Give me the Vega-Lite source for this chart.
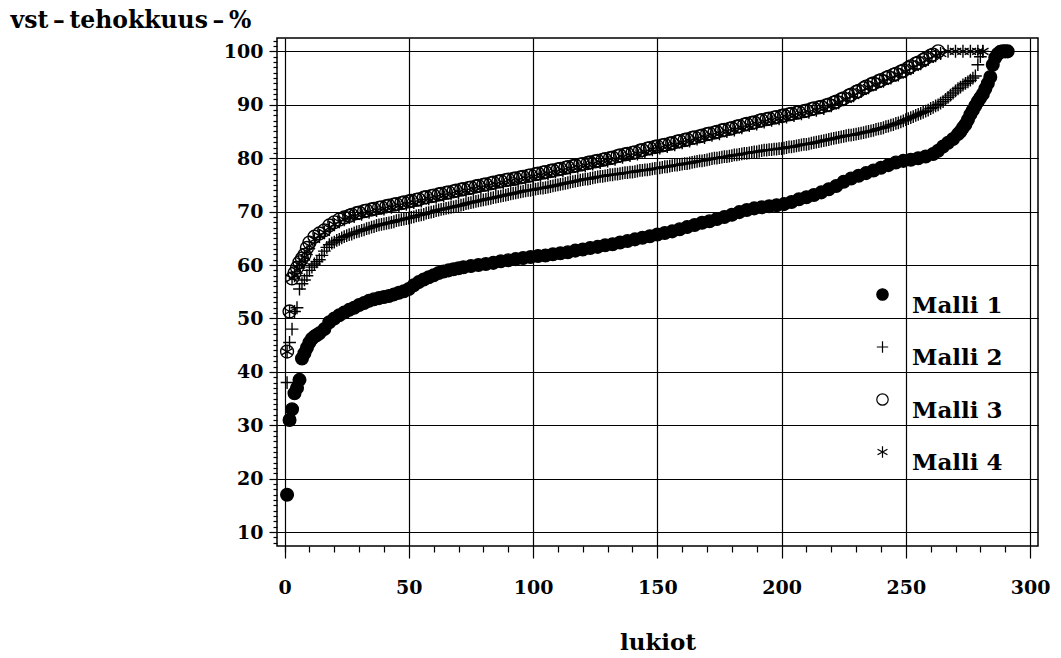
{
"$schema":"https://vega.github.io/schema/vega-lite/v6.json",
"width":761,"height":508,
"autosize":{"type":"none"},
"padding":{"left":277,"top":38,"right":23,"bottom":112},
"background":"white",
"config":{"view":{"stroke":"black","strokeWidth":1.5},
"axis":{"labelFont":"DejaVu Serif","labelFontWeight":"bold","labelFontSize":19,"labelColor":"black","tickColor":"black","tickWidth":1.2,"domain":false,"gridColor":"black","gridOpacity":1,"gridWidth":1.2,"titleColor":"black","titleFont":"DejaVu Serif"}},
"data":{"values":[
{"s":1,"x":1,"y":17},{"s":1,"x":2,"y":31},{"s":1,"x":3,"y":33},{"s":1,"x":4,"y":36},{"s":1,"x":5,"y":37},{"s":1,"x":6,"y":38.5},{"s":1,"x":7,"y":42.5},{"s":1,"x":8,"y":43.5},{"s":1,"x":9,"y":44.5},{"s":1,"x":10,"y":45.5},{"s":1,"x":11,"y":46.2},{"s":1,"x":12,"y":46.6},{"s":1,"x":13,"y":46.9},{"s":1,"x":14,"y":47.2},{"s":1,"x":16,"y":48},{"s":1,"x":18,"y":49.3},{"s":1,"x":20,"y":50},{"s":1,"x":22,"y":50.6},{"s":1,"x":24,"y":51.1},{"s":1,"x":26,"y":51.6},{"s":1,"x":28,"y":52},{"s":1,"x":30,"y":52.5},{"s":1,"x":32,"y":52.9},{"s":1,"x":34,"y":53.3},{"s":1,"x":36,"y":53.6},{"s":1,"x":38,"y":53.8},{"s":1,"x":40,"y":54},{"s":1,"x":42,"y":54.2},{"s":1,"x":44,"y":54.5},{"s":1,"x":46,"y":54.8},{"s":1,"x":48,"y":55.1},{"s":1,"x":50,"y":55.5},{"s":1,"x":52,"y":56.2},{"s":1,"x":54,"y":56.8},{"s":1,"x":56,"y":57.3},{"s":1,"x":58,"y":57.7},{"s":1,"x":60,"y":58.1},{"s":1,"x":62,"y":58.5},{"s":1,"x":64,"y":58.8},{"s":1,"x":66,"y":59},{"s":1,"x":68,"y":59.2},{"s":1,"x":70,"y":59.4},{"s":1,"x":72,"y":59.6},{"s":1,"x":75,"y":59.8},{"s":1,"x":78,"y":60},{"s":1,"x":81,"y":60.2},{"s":1,"x":84,"y":60.4},{"s":1,"x":87,"y":60.7},{"s":1,"x":90,"y":60.9},{"s":1,"x":93,"y":61.1},{"s":1,"x":96,"y":61.3},{"s":1,"x":99,"y":61.5},{"s":1,"x":102,"y":61.7},{"s":1,"x":105,"y":61.8},{"s":1,"x":108,"y":62},{"s":1,"x":111,"y":62.2},{"s":1,"x":114,"y":62.4},{"s":1,"x":117,"y":62.7},{"s":1,"x":120,"y":62.9},{"s":1,"x":123,"y":63.2},{"s":1,"x":126,"y":63.4},{"s":1,"x":129,"y":63.7},{"s":1,"x":132,"y":63.9},{"s":1,"x":135,"y":64.2},{"s":1,"x":138,"y":64.5},{"s":1,"x":141,"y":64.8},{"s":1,"x":144,"y":65.1},{"s":1,"x":147,"y":65.4},{"s":1,"x":150,"y":65.7},{"s":1,"x":153,"y":66},{"s":1,"x":156,"y":66.3},{"s":1,"x":159,"y":66.7},{"s":1,"x":162,"y":67.1},{"s":1,"x":165,"y":67.5},{"s":1,"x":168,"y":67.9},{"s":1,"x":171,"y":68.2},{"s":1,"x":174,"y":68.6},{"s":1,"x":177,"y":69},{"s":1,"x":180,"y":69.4},{"s":1,"x":183,"y":69.9},{"s":1,"x":186,"y":70.3},{"s":1,"x":189,"y":70.6},{"s":1,"x":192,"y":70.8},{"s":1,"x":195,"y":71},{"s":1,"x":198,"y":71.2},{"s":1,"x":201,"y":71.4},{"s":1,"x":204,"y":71.8},{"s":1,"x":207,"y":72.3},{"s":1,"x":210,"y":72.7},{"s":1,"x":213,"y":73.1},{"s":1,"x":216,"y":73.6},{"s":1,"x":219,"y":74.2},{"s":1,"x":222,"y":74.8},{"s":1,"x":225,"y":75.6},{"s":1,"x":228,"y":76.2},{"s":1,"x":231,"y":76.7},{"s":1,"x":234,"y":77.2},{"s":1,"x":237,"y":77.7},{"s":1,"x":240,"y":78.2},{"s":1,"x":243,"y":78.7},{"s":1,"x":246,"y":79.2},{"s":1,"x":249,"y":79.5},{"s":1,"x":252,"y":79.7},{"s":1,"x":255,"y":80},{"s":1,"x":258,"y":80.3},{"s":1,"x":261,"y":80.8},{"s":1,"x":263,"y":81.4},{"s":1,"x":265,"y":82.2},{"s":1,"x":267,"y":82.9},{"s":1,"x":269,"y":83.6},{"s":1,"x":271,"y":84.5},{"s":1,"x":272,"y":85},{"s":1,"x":273,"y":85.7},{"s":1,"x":274,"y":86.3},{"s":1,"x":275,"y":87.2},{"s":1,"x":276,"y":88.2},{"s":1,"x":277,"y":89},{"s":1,"x":278,"y":89.8},{"s":1,"x":279,"y":90.6},{"s":1,"x":280,"y":91.3},{"s":1,"x":281,"y":92},{"s":1,"x":282,"y":93},{"s":1,"x":283,"y":94},{"s":1,"x":284,"y":95.2},{"s":1,"x":285,"y":97.5},{"s":1,"x":286,"y":98.8},{"s":1,"x":287,"y":99.5},{"s":1,"x":288,"y":99.9},{"s":1,"x":289,"y":100},{"s":1,"x":290,"y":100},{"s":1,"x":291,"y":100},
{"s":2,"x":1,"y":38},{"s":2,"x":2,"y":45.5},{"s":2,"x":3,"y":48},{"s":2,"x":4,"y":51.3},{"s":2,"x":5,"y":52},{"s":2,"x":6,"y":55.5},{"s":2,"x":7,"y":56.5},{"s":2,"x":8,"y":57.2},{"s":2,"x":9,"y":58},{"s":2,"x":10,"y":59},{"s":2,"x":11,"y":59.6},{"s":2,"x":12,"y":60.2},{"s":2,"x":13,"y":60.6},{"s":2,"x":14,"y":61},{"s":2,"x":15,"y":61.8},{"s":2,"x":16,"y":62.6},{"s":2,"x":17,"y":63.3},{"s":2,"x":18,"y":63.8},{"s":2,"x":19,"y":64.1},{"s":2,"x":20,"y":64.3},{"s":2,"x":21,"y":64.6},{"s":2,"x":22,"y":64.8},{"s":2,"x":23,"y":65.1},{"s":2,"x":24,"y":65.3},{"s":2,"x":25,"y":65.5},{"s":2,"x":26,"y":65.7},{"s":2,"x":27,"y":65.8},{"s":2,"x":28,"y":66},{"s":2,"x":29,"y":66.2},{"s":2,"x":30,"y":66.3},{"s":2,"x":31,"y":66.5},{"s":2,"x":32,"y":66.6},{"s":2,"x":33,"y":66.8},{"s":2,"x":34,"y":66.9},{"s":2,"x":35,"y":67.1},{"s":2,"x":36,"y":67.2},{"s":2,"x":37,"y":67.4},{"s":2,"x":38,"y":67.5},{"s":2,"x":39,"y":67.6},{"s":2,"x":40,"y":67.7},{"s":2,"x":41,"y":67.8},{"s":2,"x":42,"y":67.9},{"s":2,"x":43,"y":68},{"s":2,"x":44,"y":68.1},{"s":2,"x":45,"y":68.3},{"s":2,"x":46,"y":68.4},{"s":2,"x":47,"y":68.5},{"s":2,"x":48,"y":68.6},{"s":2,"x":49,"y":68.7},{"s":2,"x":50,"y":68.8},{"s":2,"x":51,"y":68.9},{"s":2,"x":52,"y":69},{"s":2,"x":53,"y":69.2},{"s":2,"x":54,"y":69.3},{"s":2,"x":55,"y":69.4},{"s":2,"x":56,"y":69.5},{"s":2,"x":57,"y":69.7},{"s":2,"x":58,"y":69.8},{"s":2,"x":59,"y":69.9},{"s":2,"x":60,"y":70},{"s":2,"x":61,"y":70.2},{"s":2,"x":62,"y":70.3},{"s":2,"x":63,"y":70.4},{"s":2,"x":64,"y":70.5},{"s":2,"x":65,"y":70.6},{"s":2,"x":66,"y":70.7},{"s":2,"x":67,"y":70.8},{"s":2,"x":68,"y":70.9},{"s":2,"x":69,"y":71},{"s":2,"x":70,"y":71.1},{"s":2,"x":71,"y":71.2},{"s":2,"x":72,"y":71.3},{"s":2,"x":73,"y":71.5},{"s":2,"x":74,"y":71.6},{"s":2,"x":75,"y":71.7},{"s":2,"x":76,"y":71.8},{"s":2,"x":77,"y":71.9},{"s":2,"x":78,"y":72},{"s":2,"x":79,"y":72.1},{"s":2,"x":80,"y":72.2},{"s":2,"x":81,"y":72.3},{"s":2,"x":82,"y":72.4},{"s":2,"x":83,"y":72.5},{"s":2,"x":84,"y":72.6},{"s":2,"x":85,"y":72.7},{"s":2,"x":86,"y":72.8},{"s":2,"x":87,"y":72.9},{"s":2,"x":88,"y":73},{"s":2,"x":89,"y":73.1},{"s":2,"x":90,"y":73.2},{"s":2,"x":91,"y":73.3},{"s":2,"x":92,"y":73.4},{"s":2,"x":93,"y":73.5},{"s":2,"x":94,"y":73.6},{"s":2,"x":95,"y":73.7},{"s":2,"x":96,"y":73.8},{"s":2,"x":97,"y":73.9},{"s":2,"x":98,"y":74},{"s":2,"x":99,"y":74},{"s":2,"x":100,"y":74.1},{"s":2,"x":101,"y":74.2},{"s":2,"x":102,"y":74.3},{"s":2,"x":103,"y":74.4},{"s":2,"x":104,"y":74.4},{"s":2,"x":105,"y":74.5},{"s":2,"x":106,"y":74.6},{"s":2,"x":107,"y":74.7},{"s":2,"x":108,"y":74.8},{"s":2,"x":109,"y":74.9},{"s":2,"x":110,"y":75},{"s":2,"x":111,"y":75.1},{"s":2,"x":112,"y":75.2},{"s":2,"x":113,"y":75.3},{"s":2,"x":114,"y":75.4},{"s":2,"x":115,"y":75.5},{"s":2,"x":116,"y":75.6},{"s":2,"x":117,"y":75.7},{"s":2,"x":118,"y":75.8},{"s":2,"x":119,"y":75.9},{"s":2,"x":120,"y":76},{"s":2,"x":121,"y":76.1},{"s":2,"x":122,"y":76.1},{"s":2,"x":123,"y":76.2},{"s":2,"x":124,"y":76.3},{"s":2,"x":125,"y":76.4},{"s":2,"x":126,"y":76.5},{"s":2,"x":127,"y":76.6},{"s":2,"x":128,"y":76.6},{"s":2,"x":129,"y":76.7},{"s":2,"x":130,"y":76.8},{"s":2,"x":131,"y":76.9},{"s":2,"x":132,"y":76.9},{"s":2,"x":133,"y":77},{"s":2,"x":134,"y":77},{"s":2,"x":135,"y":77.1},{"s":2,"x":136,"y":77.2},{"s":2,"x":137,"y":77.3},{"s":2,"x":138,"y":77.3},{"s":2,"x":139,"y":77.4},{"s":2,"x":140,"y":77.4},{"s":2,"x":141,"y":77.5},{"s":2,"x":142,"y":77.6},{"s":2,"x":143,"y":77.7},{"s":2,"x":144,"y":77.7},{"s":2,"x":145,"y":77.8},{"s":2,"x":146,"y":77.8},{"s":2,"x":147,"y":77.9},{"s":2,"x":148,"y":78},{"s":2,"x":149,"y":78.1},{"s":2,"x":150,"y":78.1},{"s":2,"x":151,"y":78.2},{"s":2,"x":152,"y":78.3},{"s":2,"x":153,"y":78.4},{"s":2,"x":154,"y":78.4},{"s":2,"x":155,"y":78.5},{"s":2,"x":156,"y":78.6},{"s":2,"x":157,"y":78.7},{"s":2,"x":158,"y":78.7},{"s":2,"x":159,"y":78.8},{"s":2,"x":160,"y":78.9},{"s":2,"x":161,"y":79},{"s":2,"x":162,"y":79},{"s":2,"x":163,"y":79.1},{"s":2,"x":164,"y":79.2},{"s":2,"x":165,"y":79.3},{"s":2,"x":166,"y":79.4},{"s":2,"x":167,"y":79.5},{"s":2,"x":168,"y":79.5},{"s":2,"x":169,"y":79.6},{"s":2,"x":170,"y":79.7},{"s":2,"x":171,"y":79.8},{"s":2,"x":172,"y":79.9},{"s":2,"x":173,"y":80},{"s":2,"x":174,"y":80},{"s":2,"x":175,"y":80.1},{"s":2,"x":176,"y":80.2},{"s":2,"x":177,"y":80.3},{"s":2,"x":178,"y":80.3},{"s":2,"x":179,"y":80.4},{"s":2,"x":180,"y":80.5},{"s":2,"x":181,"y":80.6},{"s":2,"x":182,"y":80.6},{"s":2,"x":183,"y":80.7},{"s":2,"x":184,"y":80.8},{"s":2,"x":185,"y":80.9},{"s":2,"x":186,"y":80.9},{"s":2,"x":187,"y":81},{"s":2,"x":188,"y":81.1},{"s":2,"x":189,"y":81.2},{"s":2,"x":190,"y":81.2},{"s":2,"x":191,"y":81.3},{"s":2,"x":192,"y":81.4},{"s":2,"x":193,"y":81.5},{"s":2,"x":194,"y":81.5},{"s":2,"x":195,"y":81.6},{"s":2,"x":196,"y":81.6},{"s":2,"x":197,"y":81.7},{"s":2,"x":198,"y":81.7},{"s":2,"x":199,"y":81.8},{"s":2,"x":200,"y":81.8},{"s":2,"x":201,"y":81.9},{"s":2,"x":202,"y":82},{"s":2,"x":203,"y":82.1},{"s":2,"x":204,"y":82.1},{"s":2,"x":205,"y":82.2},{"s":2,"x":206,"y":82.3},{"s":2,"x":207,"y":82.4},{"s":2,"x":208,"y":82.5},{"s":2,"x":209,"y":82.6},{"s":2,"x":210,"y":82.6},{"s":2,"x":211,"y":82.7},{"s":2,"x":212,"y":82.8},{"s":2,"x":213,"y":82.9},{"s":2,"x":214,"y":83},{"s":2,"x":215,"y":83.1},{"s":2,"x":216,"y":83.2},{"s":2,"x":217,"y":83.3},{"s":2,"x":218,"y":83.4},{"s":2,"x":219,"y":83.5},{"s":2,"x":220,"y":83.6},{"s":2,"x":221,"y":83.7},{"s":2,"x":222,"y":83.8},{"s":2,"x":223,"y":83.9},{"s":2,"x":224,"y":84},{"s":2,"x":225,"y":84.1},{"s":2,"x":226,"y":84.2},{"s":2,"x":227,"y":84.3},{"s":2,"x":228,"y":84.3},{"s":2,"x":229,"y":84.4},{"s":2,"x":230,"y":84.5},{"s":2,"x":231,"y":84.6},{"s":2,"x":232,"y":84.7},{"s":2,"x":233,"y":84.8},{"s":2,"x":234,"y":84.9},{"s":2,"x":235,"y":85},{"s":2,"x":236,"y":85.1},{"s":2,"x":237,"y":85.2},{"s":2,"x":238,"y":85.4},{"s":2,"x":239,"y":85.5},{"s":2,"x":240,"y":85.6},{"s":2,"x":241,"y":85.7},{"s":2,"x":242,"y":85.9},{"s":2,"x":243,"y":86},{"s":2,"x":244,"y":86.2},{"s":2,"x":245,"y":86.3},{"s":2,"x":246,"y":86.5},{"s":2,"x":247,"y":86.6},{"s":2,"x":248,"y":86.8},{"s":2,"x":249,"y":87},{"s":2,"x":250,"y":87.2},{"s":2,"x":251,"y":87.4},{"s":2,"x":252,"y":87.6},{"s":2,"x":253,"y":87.8},{"s":2,"x":254,"y":88},{"s":2,"x":255,"y":88.2},{"s":2,"x":256,"y":88.4},{"s":2,"x":257,"y":88.6},{"s":2,"x":258,"y":88.8},{"s":2,"x":259,"y":89},{"s":2,"x":260,"y":89.3},{"s":2,"x":261,"y":89.5},{"s":2,"x":262,"y":89.8},{"s":2,"x":263,"y":90},{"s":2,"x":264,"y":90.3},{"s":2,"x":265,"y":90.6},{"s":2,"x":266,"y":91},{"s":2,"x":267,"y":91.4},{"s":2,"x":268,"y":91.8},{"s":2,"x":269,"y":92.2},{"s":2,"x":270,"y":92.6},{"s":2,"x":271,"y":93},{"s":2,"x":272,"y":93.3},{"s":2,"x":273,"y":93.7},{"s":2,"x":274,"y":94},{"s":2,"x":275,"y":94.3},{"s":2,"x":276,"y":94.6},{"s":2,"x":277,"y":95},{"s":2,"x":278,"y":95.4},{"s":2,"x":279,"y":97.5},{"s":2,"x":280,"y":99},{"s":2,"x":281,"y":100},
{"s":3,"x":1,"y":43.8},{"s":3,"x":2,"y":51.3},{"s":3,"x":3,"y":57.5},{"s":3,"x":4,"y":58.5},{"s":3,"x":5,"y":59.5},{"s":3,"x":6,"y":60.5},{"s":3,"x":7,"y":61.2},{"s":3,"x":8,"y":61.9},{"s":3,"x":9,"y":63.2},{"s":3,"x":10,"y":64.2},{"s":3,"x":12,"y":65.3},{"s":3,"x":14,"y":65.9},{"s":3,"x":16,"y":66.5},{"s":3,"x":18,"y":67.4},{"s":3,"x":20,"y":68},{"s":3,"x":22,"y":68.5},{"s":3,"x":24,"y":68.9},{"s":3,"x":26,"y":69.2},{"s":3,"x":27,"y":69.4},{"s":3,"x":29,"y":69.7},{"s":3,"x":30,"y":69.8},{"s":3,"x":32,"y":70.1},{"s":3,"x":33,"y":70.2},{"s":3,"x":35,"y":70.4},{"s":3,"x":36,"y":70.5},{"s":3,"x":38,"y":70.7},{"s":3,"x":39,"y":70.8},{"s":3,"x":41,"y":71},{"s":3,"x":42,"y":71.1},{"s":3,"x":44,"y":71.3},{"s":3,"x":45,"y":71.4},{"s":3,"x":47,"y":71.6},{"s":3,"x":48,"y":71.7},{"s":3,"x":50,"y":71.9},{"s":3,"x":51,"y":72},{"s":3,"x":53,"y":72.2},{"s":3,"x":54,"y":72.3},{"s":3,"x":56,"y":72.6},{"s":3,"x":57,"y":72.7},{"s":3,"x":59,"y":72.9},{"s":3,"x":60,"y":73},{"s":3,"x":62,"y":73.2},{"s":3,"x":63,"y":73.3},{"s":3,"x":65,"y":73.5},{"s":3,"x":66,"y":73.6},{"s":3,"x":68,"y":73.8},{"s":3,"x":69,"y":73.9},{"s":3,"x":71,"y":74.1},{"s":3,"x":72,"y":74.2},{"s":3,"x":74,"y":74.4},{"s":3,"x":75,"y":74.5},{"s":3,"x":77,"y":74.7},{"s":3,"x":78,"y":74.8},{"s":3,"x":80,"y":75},{"s":3,"x":81,"y":75.1},{"s":3,"x":83,"y":75.3},{"s":3,"x":84,"y":75.4},{"s":3,"x":86,"y":75.6},{"s":3,"x":87,"y":75.7},{"s":3,"x":89,"y":75.9},{"s":3,"x":90,"y":76},{"s":3,"x":92,"y":76.1},{"s":3,"x":93,"y":76.2},{"s":3,"x":95,"y":76.4},{"s":3,"x":96,"y":76.5},{"s":3,"x":98,"y":76.7},{"s":3,"x":99,"y":76.8},{"s":3,"x":101,"y":77},{"s":3,"x":102,"y":77.1},{"s":3,"x":104,"y":77.3},{"s":3,"x":105,"y":77.4},{"s":3,"x":107,"y":77.6},{"s":3,"x":108,"y":77.7},{"s":3,"x":110,"y":77.9},{"s":3,"x":111,"y":78},{"s":3,"x":113,"y":78.2},{"s":3,"x":114,"y":78.3},{"s":3,"x":116,"y":78.5},{"s":3,"x":117,"y":78.6},{"s":3,"x":119,"y":78.8},{"s":3,"x":120,"y":78.9},{"s":3,"x":122,"y":79.1},{"s":3,"x":123,"y":79.2},{"s":3,"x":125,"y":79.4},{"s":3,"x":126,"y":79.5},{"s":3,"x":128,"y":79.7},{"s":3,"x":129,"y":79.8},{"s":3,"x":131,"y":80},{"s":3,"x":132,"y":80.1},{"s":3,"x":134,"y":80.4},{"s":3,"x":135,"y":80.5},{"s":3,"x":137,"y":80.7},{"s":3,"x":138,"y":80.8},{"s":3,"x":140,"y":81},{"s":3,"x":141,"y":81.1},{"s":3,"x":143,"y":81.4},{"s":3,"x":144,"y":81.5},{"s":3,"x":146,"y":81.8},{"s":3,"x":147,"y":81.9},{"s":3,"x":149,"y":82.1},{"s":3,"x":150,"y":82.2},{"s":3,"x":152,"y":82.4},{"s":3,"x":153,"y":82.5},{"s":3,"x":155,"y":82.7},{"s":3,"x":156,"y":82.8},{"s":3,"x":158,"y":83.1},{"s":3,"x":159,"y":83.2},{"s":3,"x":161,"y":83.4},{"s":3,"x":162,"y":83.5},{"s":3,"x":164,"y":83.8},{"s":3,"x":165,"y":83.9},{"s":3,"x":167,"y":84.1},{"s":3,"x":168,"y":84.2},{"s":3,"x":170,"y":84.5},{"s":3,"x":171,"y":84.6},{"s":3,"x":173,"y":84.8},{"s":3,"x":174,"y":84.9},{"s":3,"x":176,"y":85.2},{"s":3,"x":177,"y":85.3},{"s":3,"x":179,"y":85.5},{"s":3,"x":180,"y":85.6},{"s":3,"x":182,"y":85.9},{"s":3,"x":183,"y":86},{"s":3,"x":185,"y":86.3},{"s":3,"x":186,"y":86.4},{"s":3,"x":188,"y":86.6},{"s":3,"x":189,"y":86.7},{"s":3,"x":191,"y":87},{"s":3,"x":192,"y":87.1},{"s":3,"x":194,"y":87.3},{"s":3,"x":195,"y":87.4},{"s":3,"x":197,"y":87.6},{"s":3,"x":198,"y":87.7},{"s":3,"x":200,"y":87.9},{"s":3,"x":201,"y":88},{"s":3,"x":203,"y":88.2},{"s":3,"x":204,"y":88.3},{"s":3,"x":206,"y":88.5},{"s":3,"x":207,"y":88.6},{"s":3,"x":209,"y":88.8},{"s":3,"x":210,"y":88.9},{"s":3,"x":212,"y":89.2},{"s":3,"x":213,"y":89.3},{"s":3,"x":215,"y":89.5},{"s":3,"x":216,"y":89.6},{"s":3,"x":218,"y":89.9},{"s":3,"x":219,"y":90},{"s":3,"x":221,"y":90.4},{"s":3,"x":222,"y":90.6},{"s":3,"x":224,"y":91},{"s":3,"x":225,"y":91.2},{"s":3,"x":227,"y":91.7},{"s":3,"x":228,"y":91.9},{"s":3,"x":230,"y":92.4},{"s":3,"x":231,"y":92.6},{"s":3,"x":233,"y":93.1},{"s":3,"x":234,"y":93.4},{"s":3,"x":236,"y":93.8},{"s":3,"x":237,"y":94},{"s":3,"x":239,"y":94.4},{"s":3,"x":240,"y":94.6},{"s":3,"x":242,"y":95},{"s":3,"x":243,"y":95.2},{"s":3,"x":245,"y":95.6},{"s":3,"x":246,"y":95.8},{"s":3,"x":248,"y":96.2},{"s":3,"x":249,"y":96.4},{"s":3,"x":251,"y":96.9},{"s":3,"x":252,"y":97.2},{"s":3,"x":254,"y":97.7},{"s":3,"x":255,"y":97.9},{"s":3,"x":257,"y":98.4},{"s":3,"x":258,"y":98.7},{"s":3,"x":260,"y":99.2},{"s":3,"x":261,"y":99.4},{"s":3,"x":263,"y":100},
{"s":4,"x":1,"y":43.8},{"s":4,"x":2,"y":51.3},{"s":4,"x":3,"y":57.5},{"s":4,"x":4,"y":58},{"s":4,"x":5,"y":59},{"s":4,"x":6,"y":60},{"s":4,"x":7,"y":60.8},{"s":4,"x":8,"y":61.5},{"s":4,"x":9,"y":62.5},{"s":4,"x":10,"y":63.6},{"s":4,"x":12,"y":64.8},{"s":4,"x":14,"y":65.5},{"s":4,"x":16,"y":66.1},{"s":4,"x":18,"y":67},{"s":4,"x":20,"y":67.6},{"s":4,"x":22,"y":68.1},{"s":4,"x":24,"y":68.5},{"s":4,"x":26,"y":68.9},{"s":4,"x":28,"y":69.1},{"s":4,"x":31,"y":69.5},{"s":4,"x":34,"y":69.9},{"s":4,"x":37,"y":70.2},{"s":4,"x":40,"y":70.5},{"s":4,"x":43,"y":70.8},{"s":4,"x":46,"y":71.1},{"s":4,"x":49,"y":71.4},{"s":4,"x":52,"y":71.7},{"s":4,"x":55,"y":72},{"s":4,"x":58,"y":72.4},{"s":4,"x":61,"y":72.7},{"s":4,"x":64,"y":73},{"s":4,"x":67,"y":73.3},{"s":4,"x":70,"y":73.6},{"s":4,"x":73,"y":73.9},{"s":4,"x":76,"y":74.2},{"s":4,"x":79,"y":74.5},{"s":4,"x":82,"y":74.8},{"s":4,"x":85,"y":75.1},{"s":4,"x":88,"y":75.4},{"s":4,"x":91,"y":75.7},{"s":4,"x":94,"y":75.9},{"s":4,"x":97,"y":76.2},{"s":4,"x":100,"y":76.5},{"s":4,"x":103,"y":76.8},{"s":4,"x":106,"y":77.1},{"s":4,"x":109,"y":77.4},{"s":4,"x":112,"y":77.7},{"s":4,"x":115,"y":78},{"s":4,"x":118,"y":78.3},{"s":4,"x":121,"y":78.6},{"s":4,"x":124,"y":78.9},{"s":4,"x":127,"y":79.2},{"s":4,"x":130,"y":79.5},{"s":4,"x":133,"y":79.8},{"s":4,"x":136,"y":80.2},{"s":4,"x":139,"y":80.5},{"s":4,"x":142,"y":80.8},{"s":4,"x":145,"y":81.2},{"s":4,"x":148,"y":81.6},{"s":4,"x":151,"y":81.9},{"s":4,"x":154,"y":82.2},{"s":4,"x":157,"y":82.5},{"s":4,"x":160,"y":82.9},{"s":4,"x":163,"y":83.2},{"s":4,"x":166,"y":83.6},{"s":4,"x":169,"y":83.9},{"s":4,"x":172,"y":84.3},{"s":4,"x":175,"y":84.6},{"s":4,"x":178,"y":85},{"s":4,"x":181,"y":85.3},{"s":4,"x":184,"y":85.7},{"s":4,"x":187,"y":86.1},{"s":4,"x":190,"y":86.4},{"s":4,"x":193,"y":86.8},{"s":4,"x":196,"y":87.1},{"s":4,"x":199,"y":87.4},{"s":4,"x":202,"y":87.7},{"s":4,"x":205,"y":88},{"s":4,"x":208,"y":88.3},{"s":4,"x":211,"y":88.6},{"s":4,"x":214,"y":89},{"s":4,"x":217,"y":89.3},{"s":4,"x":220,"y":89.8},{"s":4,"x":223,"y":90.4},{"s":4,"x":226,"y":91},{"s":4,"x":229,"y":91.7},{"s":4,"x":232,"y":92.5},{"s":4,"x":235,"y":93.2},{"s":4,"x":238,"y":93.8},{"s":4,"x":241,"y":94.4},{"s":4,"x":244,"y":95},{"s":4,"x":247,"y":95.6},{"s":4,"x":250,"y":96.2},{"s":4,"x":253,"y":97},{"s":4,"x":256,"y":97.7},{"s":4,"x":259,"y":98.5},{"s":4,"x":262,"y":99.2},{"s":4,"x":264,"y":99.6},{"s":4,"x":267,"y":100},{"s":4,"x":270,"y":100},{"s":4,"x":273,"y":100},{"s":4,"x":276,"y":100},{"s":4,"x":279,"y":100},{"s":4,"x":281,"y":100}
]},
"layer":[
{"mark":{"type":"point","filled":false,"strokeWidth":1.4,"opacity":1},
"encoding":{
"x":{"field":"x","type":"quantitative","scale":{"domain":[-3.05,303.2],"nice":false,"zero":false},
"axis":{"title":"lukiot","values":[0,50,100,150,200,250,300],"grid":true,"tickSize":12,"labelPadding":20,"titleFontSize":23,"titleFontWeight":"bold","titleY":103,"titleBaseline":"alphabetic"}},
"y":{"field":"y","type":"quantitative","scale":{"domain":[7.4,102.5],"nice":false,"zero":false},
"axis":{"title":"vst\u2009\u2013\u2009tehokkuus\u2009\u2013\u2009%","values":[10,20,30,40,50,60,70,80,90,100],"grid":true,"tickSize":8,"labelPadding":6,"titleAngle":0,"titleAlign":"left","titleBaseline":"alphabetic","titleX":-267,"titleY":-11,"titleFontSize":23.5,"titleFontWeight":"bold"}},
"shape":{"field":"s","type":"nominal","scale":{"domain":[1,2,3,4],"range":["circle","M-1,0H1M0,-1V1","circle","M0,-1V1M-0.87,-0.5L0.87,0.5M-0.87,0.5L0.87,-0.5"]},
"legend":{"orient":"none","legendX":594,"legendY":245,"padding":0,"title":null,"labelExpr":"'Malli ' + datum.label","labelFont":"DejaVu Serif","labelFontWeight":"bold","labelFontSize":23,"labelColor":"black","labelBaseline":"top","labelOffset":18,"symbolSize":130,"symbolStrokeColor":"black","symbolStrokeWidth":1.2,"rowPadding":17.5}},
"fill":{"field":"s","type":"nominal","scale":{"domain":[1,2,3,4],"range":["black","transparent","transparent","transparent"]},
"legend":{"orient":"none","legendX":594,"legendY":245,"padding":0,"title":null,"labelExpr":"'Malli ' + datum.label","labelFont":"DejaVu Serif","labelFontWeight":"bold","labelFontSize":23,"labelColor":"black","labelBaseline":"top","labelOffset":18,"symbolSize":130,"symbolStrokeColor":"black","symbolStrokeWidth":1.2,"rowPadding":17.5}},
"stroke":{"field":"s","type":"nominal","scale":{"domain":[1,2,3,4],"range":["black","black","black","black"]},
"legend":{"orient":"none","legendX":594,"legendY":245,"padding":0,"title":null,"labelExpr":"'Malli ' + datum.label","labelFont":"DejaVu Serif","labelFontWeight":"bold","labelFontSize":23,"labelColor":"black","labelBaseline":"top","labelOffset":18,"symbolSize":130,"symbolStrokeColor":"black","symbolStrokeWidth":1.2,"rowPadding":17.5}},
"size":{"field":"s","type":"ordinal","scale":{"range":[160,170,120,160]},"legend":null}
}},
{"mark":{"type":"point","opacity":0},
"encoding":{
"x":{"field":"x","type":"quantitative","axis":{"orient":"bottom","values":[0,10,20,30,40,60,70,80,90,110,120,130,140,160,170,180,190,210,220,230,240,260,270,280,290],"tickSize":6,"labels":false,"grid":false,"title":null}},
"y":{"field":"y","type":"quantitative","axis":{"orient":"left","values":[8,9,11,12,13,14,15,16,17,18,19,21,22,23,24,25,26,27,28,29,31,32,33,34,35,36,37,38,39,41,42,43,44,45,46,47,48,49,51,52,53,54,55,56,57,58,59,61,62,63,64,65,66,67,68,69,71,72,73,74,75,76,77,78,79,81,82,83,84,85,86,87,88,89,91,92,93,94,95,96,97,98,99,101,102],"tickSize":4,"labels":false,"grid":false,"title":null}}
}}
],
"resolve":{"axis":{"x":"independent","y":"independent"}}
}
